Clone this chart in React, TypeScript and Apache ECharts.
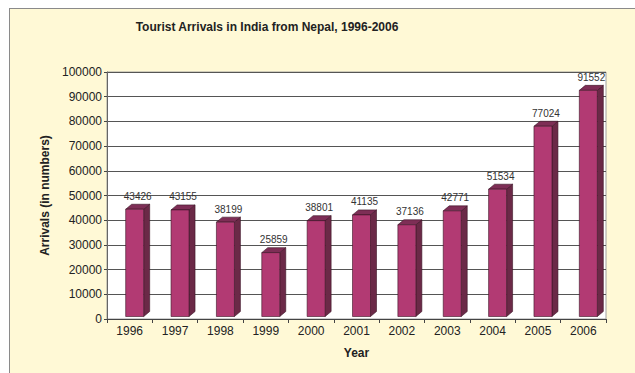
import React, { useEffect, useRef } from "react";
import * as echarts from "echarts";

const years = ["1996", "1997", "1998", "1999", "2000", "2001", "2002", "2003", "2004", "2005", "2006"];
const arrivals = [43426, 43155, 38199, 25859, 38801, 41135, 37136, 42771, 51534, 77024, 91552];
const titleText = "Tourist Arrivals in India from Nepal, 1996-2006";
const yName = "Arrivals (in numbers)";
const xName = "Year";

const FONT = "'Liberation Sans', Arial, Helvetica, sans-serif";
const FRONT = "#b23a73";
const SIDE = "#6b2947";
const TOP = "#7e2e56";
const EDGE = "#3a1425";

export default function App() {
  const ref = useRef<HTMLDivElement>(null);
  useEffect(() => {
    if (!ref.current) return;
    const chart = echarts.init(ref.current, null, { renderer: "svg" });
    const option: any = {
      animation: false,
      backgroundColor: "#fff9d6",
      title: {
        text: titleText,
        left: 262,
        textAlign: "center",
        top: 16,
        textStyle: { fontFamily: FONT, fontSize: 12, fontWeight: "bold", color: "#222" },
      },
      graphic: [
        { type: "rect", shape: { x: 0, y: 0, width: 635, height: 8 }, style: { fill: "#fff" }, silent: true },
        { type: "rect", shape: { x: 0, y: 0, width: 9, height: 373 }, style: { fill: "#fff" }, silent: true },
        { type: "line", shape: { x1: 9, y1: 8.5, x2: 635, y2: 8.5 }, style: { stroke: "#8a8a8a", lineWidth: 1 } },
        { type: "line", shape: { x1: 9.5, y1: 8, x2: 9.5, y2: 373 }, style: { stroke: "#8a8a8a", lineWidth: 1 } },
      ],
      grid: {
        left: 107,
        right: 29,
        top: 72,
        bottom: 54,
        show: true,
        backgroundColor: "#ffffff",
        borderColor: "#a0a0a0",
        borderWidth: 1,
      },
      xAxis: {
        type: "category",
        data: years,
        boundaryGap: true,
        name: xName,
        nameLocation: "middle",
        nameGap: 28,
        nameTextStyle: { fontFamily: FONT, fontSize: 12, fontWeight: "bold", color: "#222" },
        axisLine: { lineStyle: { color: "#444", width: 1 } },
        axisTick: { show: true, length: 4, alignWithLabel: false, lineStyle: { color: "#444" } },
        axisLabel: { fontFamily: FONT, fontSize: 12, color: "#222", margin: 6 },
      },
      yAxis: {
        type: "value",
        min: 0,
        max: 100000,
        interval: 10000,
        name: yName,
        nameLocation: "middle",
        nameGap: 55,
        nameTextStyle: { fontFamily: FONT, fontSize: 12, fontWeight: "bold", color: "#222" },
        axisLine: { show: true, lineStyle: { color: "#666", width: 1 } },
        axisTick: { show: true, length: 3, lineStyle: { color: "#444" } },
        axisLabel: { fontFamily: FONT, fontSize: 12, color: "#222", margin: 5, formatter: (v: number) => String(v) },
        splitLine: { show: true, lineStyle: { color: "#555", width: 1 } },
      },
      series: [
        {
          type: "custom",
          data: arrivals.map((v, i) => [i, v]),
          encode: { x: 0, y: 1 },
          renderItem: (params: any, api: any) => {
            const idx = api.value(0);
            const val = api.value(1);
            const top = api.coord([idx, val]);
            const base = api.coord([idx, 0]);
            const c = top[0];
            const x0 = c - 4;
            const w = 18;
            const dx = 6;
            const dy = 5;
            const yT = top[1] - 2.5;
            const yB = base[1] - 2.5;
            return {
              type: "group",
              children: [
                {
                  type: "polygon",
                  shape: { points: [[x0 + w, yT], [x0 + w + dx, yT - dy], [x0 + w + dx, yB - dy], [x0 + w, yB]] },
                  style: { fill: SIDE, stroke: EDGE, lineWidth: 0.6 },
                },
                {
                  type: "polygon",
                  shape: { points: [[x0, yT], [x0 + dx, yT - dy], [x0 + w + dx, yT - dy], [x0 + w, yT]] },
                  style: { fill: TOP, stroke: EDGE, lineWidth: 0.6 },
                },
                {
                  type: "rect",
                  shape: { x: x0, y: yT, width: w, height: yB - yT },
                  style: { fill: FRONT, stroke: EDGE, lineWidth: 0.6 },
                },
                {
                  type: "text",
                  style: {
                    text: String(val),
                    x: c + 8,
                    y: yT - 13,
                    align: "center",
                    verticalAlign: "middle",
                    fontFamily: FONT,
                    fontSize: 10,
                    fill: "#333",
                  },
                },
              ],
            };
          },
        },
      ],
    };
    chart.setOption(option);
    return () => chart.dispose();
  }, []);
  return <div ref={ref} style={{ position: "fixed", left: 0, top: 0, width: 635, height: 373 }} />;
}
